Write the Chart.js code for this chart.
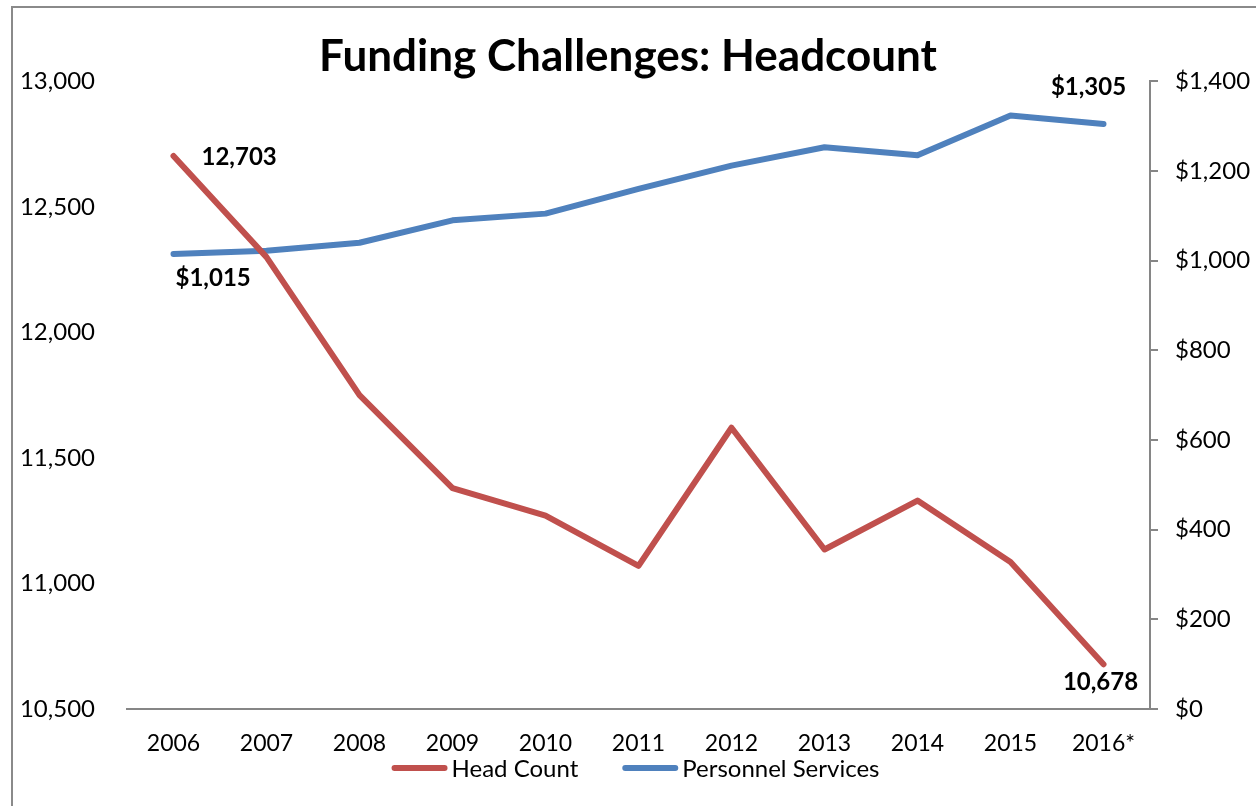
<!DOCTYPE html>
<html>
<head>
<meta charset="utf-8">
<title>Funding Challenges: Headcount</title>
<script src="https://cdn.jsdelivr.net/npm/chart.js@4.4.1/dist/chart.umd.min.js"></script>
<style>
  html, body { margin: 0; padding: 0; background: #ffffff; }
  canvas { display: block; }
</style>
</head>
<body>
<canvas id="chart" width="1256" height="806"></canvas>
<script>
// Fiscal years shown on the category axis
const years = ['2006', '2007', '2008', '2009', '2010', '2011', '2012', '2013', '2014', '2015', '2016*'];

// Head count (left axis)
const headCount = [12703, 12300, 11750, 11380, 11270, 11070, 11620, 11135, 11330, 11085, 10678];

// Personnel services, $ millions (right axis)
const personnelServices = [1015, 1022, 1040, 1090, 1105, 1160, 1212, 1253, 1235, 1324, 1305];

// Axis tick values
const headCountTicks = [10500, 11000, 11500, 12000, 12500, 13000];
const dollarTicks = [0, 200, 400, 600, 800, 1000, 1200, 1400];

// Points that carry a value label
const headCountLabelled = [0, 10];
const personnelLabelled = [0, 10];

const FONT = 'Lato, Carlito, Calibri, "Open Sans", sans-serif';
const AXIS_GREY = '#868686';
const RED = '#C0504D';
const BLUE = '#4F81BD';

const fmtCount = v => v.toLocaleString('en-US');
const fmtDollar = v => '$' + v.toLocaleString('en-US');

// Outer frame around the whole chart
const framePlugin = {
  id: 'frame',
  beforeDraw(chart) {
    const ctx = chart.ctx;
    ctx.save();
    ctx.fillStyle = '#ffffff';
    ctx.fillRect(0, 0, chart.width, chart.height);
    ctx.strokeStyle = '#8a8a8a';
    ctx.lineWidth = 2;
    ctx.strokeRect(12, 7, chart.width + 40, chart.height + 40);
    ctx.restore();
  }
};

// Bold value labels next to the first and last points
const valueLabelPlugin = {
  id: 'valueLabels',
  afterDatasetsDraw(chart, args, opts) {
    const ctx = chart.ctx;
    ctx.save();
    ctx.font = 'bold 24px ' + FONT;
    ctx.fillStyle = '#000000';
    ctx.textBaseline = 'middle';
    opts.items.forEach(item => {
      const meta = chart.getDatasetMeta(item.dataset);
      const pt = meta.data[item.index];
      const value = chart.data.datasets[item.dataset].data[item.index];
      const text = item.format(value);
      ctx.textAlign = item.align;
      ctx.fillText(text, pt.x + item.dx, pt.y + item.dy);
    });
    ctx.restore();
  }
};

// Legend row below the category labels
const legendRowPlugin = {
  id: 'legendRow',
  afterDraw(chart, args, opts) {
    const ctx = chart.ctx;
    ctx.save();
    ctx.font = '24px ' + FONT;
    ctx.textBaseline = 'middle';
    ctx.textAlign = 'left';
    const swatch = 56, gapText = 4, gapItem = 44;
    const items = chart.data.datasets.map(ds => ({
      label: ds.label, color: ds.borderColor, w: ctx.measureText(ds.label).width
    }));
    let total = 0;
    items.forEach((it, i) => { total += swatch + gapText + it.w + (i ? gapItem : 0); });
    const area = chart.chartArea;
    let x = (area.left + area.right) / 2 - total / 2 + opts.shift;
    const y = opts.y;
    items.forEach(it => {
      ctx.strokeStyle = it.color;
      ctx.lineWidth = 6;
      ctx.lineCap = 'round';
      ctx.beginPath();
      ctx.moveTo(x + 3, y);
      ctx.lineTo(x + swatch - 3, y);
      ctx.stroke();
      ctx.fillStyle = '#000000';
      ctx.fillText(it.label, x + swatch + gapText, y + 1);
      x += swatch + gapText + it.w + gapItem;
    });
    ctx.restore();
  }
};

function draw() {
  Chart.defaults.font.family = FONT;
  Chart.defaults.color = '#000000';

  new Chart(document.getElementById('chart'), {
    type: 'line',
    data: {
      labels: years,
      datasets: [
        {
          label: 'Head Count',
          data: headCount,
          yAxisID: 'yCount',
          borderColor: RED,
          backgroundColor: RED,
          borderWidth: 6,
          borderCapStyle: 'round',
          borderJoinStyle: 'round',
          pointRadius: 0,
          tension: 0
        },
        {
          label: 'Personnel Services',
          data: personnelServices,
          yAxisID: 'yDollars',
          borderColor: BLUE,
          backgroundColor: BLUE,
          borderWidth: 6,
          borderCapStyle: 'round',
          borderJoinStyle: 'round',
          pointRadius: 0,
          tension: 0
        }
      ]
    },
    options: {
      responsive: false,
      animation: false,
      devicePixelRatio: 1,
      layout: { padding: { left: 0, right: 0, top: 0, bottom: 27.5 } },
      plugins: {
        legend: { display: false },
        tooltip: { enabled: false },
        title: {
          display: true,
          text: 'Funding Challenges: Headcount',
          color: '#000000',
          font: { size: 44, weight: 'bold', family: FONT, lineHeight: 1.1 },
          padding: { top: 33, bottom: 0 }
        },
        valueLabels: {
          items: [
            { dataset: 0, index: headCountLabelled[0], dx: 28, dy: 1, align: 'left', format: fmtCount },
            { dataset: 0, index: headCountLabelled[1], dx: -3, dy: 18, align: 'center', format: fmtCount },
            { dataset: 1, index: personnelLabelled[0], dx: 2, dy: 24, align: 'left', format: fmtDollar },
            { dataset: 1, index: personnelLabelled[1], dx: -15, dy: -37, align: 'center', format: fmtDollar }
          ]
        },
        legendRow: { y: 768, shift: -3 }
      },
      scales: {
        x: {
          type: 'category',
          offset: true,
          grid: { display: false, drawTicks: false },
          border: { display: true, color: AXIS_GREY, width: 2 },
          ticks: { padding: 21, font: { size: 23 }, color: '#000000', maxRotation: 0, autoSkip: false }
        },
        yCount: {
          type: 'linear',
          position: 'left',
          min: headCountTicks[0],
          max: headCountTicks[headCountTicks.length - 1],
          afterBuildTicks: scale => { scale.ticks = headCountTicks.map(v => ({ value: v })); },
          afterFit: scale => { scale.width = 127; },
          grid: { display: false, drawTicks: false },
          border: { display: false },
          ticks: { padding: 32, font: { size: 24 }, color: '#000000', callback: v => fmtCount(v) }
        },
        yDollars: {
          type: 'linear',
          position: 'right',
          min: dollarTicks[0],
          max: dollarTicks[dollarTicks.length - 1],
          afterBuildTicks: scale => { scale.ticks = dollarTicks.map(v => ({ value: v })); },
          afterFit: scale => { scale.width = 106; },
          grid: { display: true, drawOnChartArea: false, drawTicks: true, tickLength: 8, color: AXIS_GREY, lineWidth: 2 },
          border: { display: true, color: AXIS_GREY, width: 2 },
          ticks: { padding: 17, font: { size: 24 }, color: '#000000', callback: v => fmtDollar(v) }
        }
      }
    },
    plugins: [framePlugin, valueLabelPlugin, legendRowPlugin]
  });
}

if (document.fonts && document.fonts.load) {
  Promise.all([
    document.fonts.load('24px Lato'),
    document.fonts.load('bold 44px Lato')
  ]).then(draw, draw);
} else {
  draw();
}
</script>
</body>
</html>
